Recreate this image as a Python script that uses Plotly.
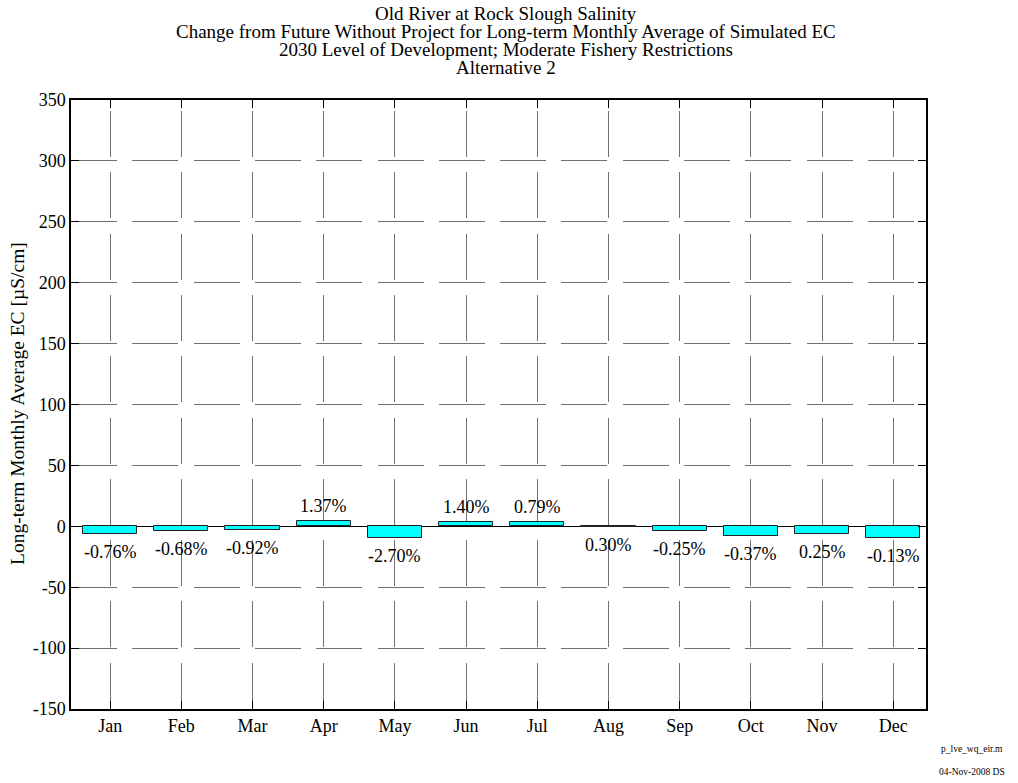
import plotly.graph_objects as go

# Données
months = ["Jan", "Feb", "Mar", "Apr", "May", "Jun", "Jul", "Aug", "Sep", "Oct", "Nov", "Dec"]
ec_change = [-6.0, -4.1, -3.3, 4.4, -9.3, 3.6, 3.6, -0.8, -4.1, -7.9, -6.3, -9.3]
pct_labels = ["-0.76%", "-0.68%", "-0.92%", "1.37%", "-2.70%", "1.40%",
              "0.79%", "0.30%", "-0.25%", "-0.37%", "0.25%", "-0.13%"]
title_lines = [
    "Old River at Rock Slough Salinity",
    "Change from Future Without Project for Long-term Monthly Average of Simulated EC",
    "2030 Level of Development; Moderate Fishery Restrictions",
    "Alternative 2",
]
y_ticks = list(range(-150, 351, 50))
y_ticktext = [str(v) for v in y_ticks]

FONT = "Liberation Serif, Times New Roman, serif"
W, H = 1018, 783
L, R, T, B = 71, 92, 100, 74
PW, PH = W - L - R, H - T - B


def px_x(x):
    # position en pixels -> coordonnées "paper"
    return (x - L) / PW


def px_y(y):
    return (H - B - y) / PH


fig = go.Figure()

fig.add_trace(go.Bar(
    x=months,
    y=ec_change,
    width=0.76,
    marker=dict(color="#00FFFF", line=dict(color="#222222", width=1)),
    showlegend=False,
))

annotations = []

# Étiquettes de pourcentage au-dessus / en dessous des barres
for m, v, lab in zip(months, ec_change, pct_labels):
    annotations.append(dict(
        x=m, y=v, xref="x", yref="y", text=lab, showarrow=False,
        yanchor="middle", yshift=15 if v > 0 else -18,
        font=dict(family=FONT, size=18, color="black"),
    ))

# Titre sur quatre lignes
for i, line in enumerate(title_lines):
    annotations.append(dict(
        x=px_x(506), y=px_y(13 + i * 18.3), xref="paper", yref="paper",
        text=line, showarrow=False, xanchor="center", yanchor="middle",
        font=dict(family=FONT, size=19, color="black"),
    ))

# Titre de l'axe Y
annotations.append(dict(
    x=px_x(18), y=px_y(404), xref="paper", yref="paper", textangle=-90,
    text="Long-term Monthly Average EC [µS/cm]", showarrow=False,
    xanchor="center", yanchor="middle",
    font=dict(family=FONT, size=19.5, color="black"),
))

# Pied de page
for txt, yy in [("p_lve_wq_eir.m", 749), ("04-Nov-2008 DS", 772)]:
    annotations.append(dict(
        x=px_x(972), y=px_y(yy), xref="paper", yref="paper", text=txt,
        showarrow=False, xanchor="center", yanchor="middle",
        font=dict(family=FONT, size=9.5, color="black"),
    ))

fig.update_xaxes(
    range=[-0.55, 11.46],
    showline=True, linecolor="black", linewidth=1.5, mirror="ticks",
    ticks="inside", ticklen=8, tickcolor="black", tickwidth=1,
    showgrid=True, gridcolor="#707070", gridwidth=1,
    griddash="0px,11px,46px,4.3px",
    tickfont=dict(family=FONT, size=18, color="black"),
)

fig.update_yaxes(
    range=[-150, 350], tickvals=y_ticks, ticktext=y_ticktext,
    showline=True, linecolor="black", linewidth=1.5, mirror="ticks",
    ticks="inside", ticklen=8, tickcolor="black", tickwidth=1,
    showgrid=True, gridcolor="#707070", gridwidth=1,
    griddash="46px,15.3px",
    zeroline=True, zerolinecolor="black", zerolinewidth=1,
    tickfont=dict(family=FONT, size=18, color="black"),
)

fig.update_layout(
    width=W, height=H,
    margin=dict(l=L, r=R, t=T, b=B),
    plot_bgcolor="white", paper_bgcolor="white",
    bargap=0,
    annotations=annotations,
)

# Supprime la marge par défaut du <body> pour que la figure commence en (0, 0)
fig.write_html(
    "out.html",
    config={"displayModeBar": False},
    post_script="document.body.style.margin = '0';",
)
